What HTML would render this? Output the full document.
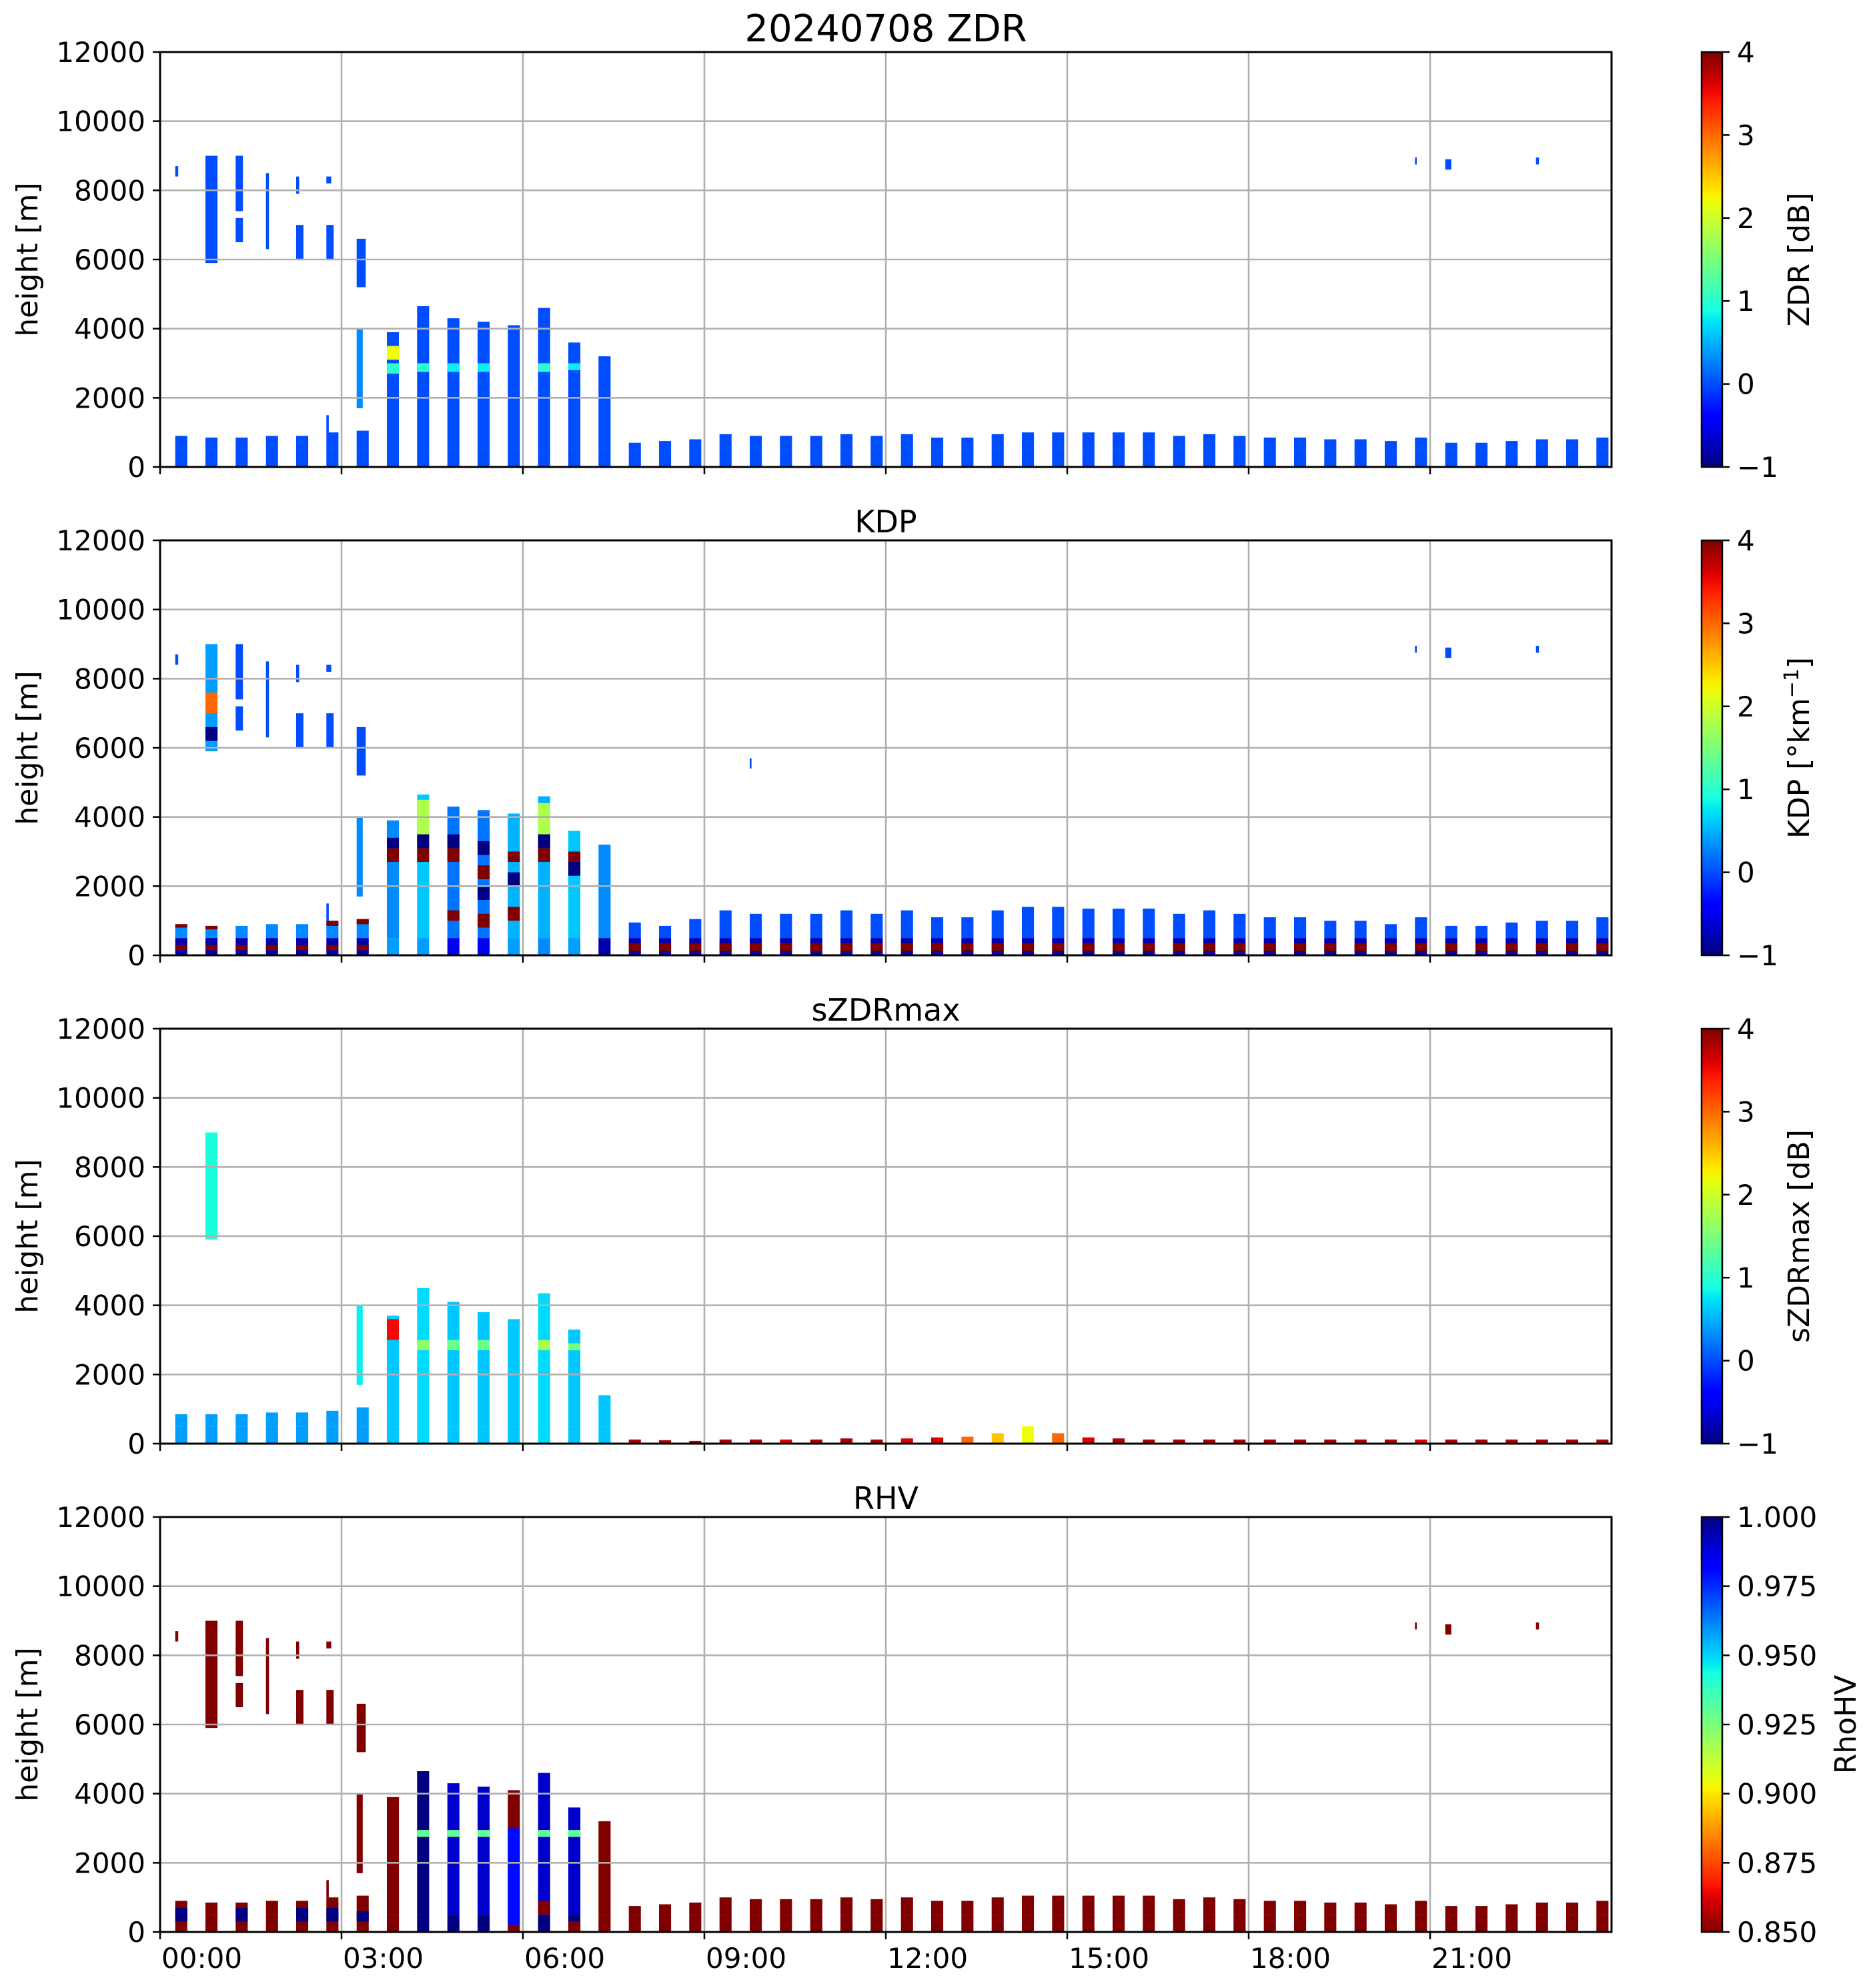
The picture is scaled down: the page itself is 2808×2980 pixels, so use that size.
<!DOCTYPE html>
<html><head><meta charset="utf-8"><style>
html,body{margin:0;padding:0;background:#fff;}
svg{display:block;font-family:"DejaVu Sans","Liberation Sans",sans-serif;}
</style></head><body>
<svg id="fig" xmlns="http://www.w3.org/2000/svg" width="2808" height="2980" viewBox="0 0 2808 2980">
<rect x="0" y="0" width="2808" height="2980" fill="#fff"/>
</svg>
<script>
// ---- data ----
const scanTimes = [0.25,0.75,1.25,1.75,2.25,2.75,3.25,3.75,4.25,4.75,5.25,5.75,6.25,6.75,7.25,7.75,8.25,8.75,9.25,9.75,10.25,10.75,11.25,11.75,12.25,12.75,13.25,13.75,14.25,14.75,15.25,15.75,16.25,16.75,17.25,17.75,18.25,18.75,19.25,19.75,20.25,20.75,21.25,21.75,22.25,22.75,23.25,23.75];
const scanDur = 0.2;
const xTickHours = [0,3,6,9,12,15,18,21];
const xTickLabels = ["00:00","03:00","06:00","09:00","12:00","15:00","18:00","21:00"];
const yTicks = [0,2000,4000,6000,8000,10000,12000];

// echo top heights (km) per scan
const zdrTop = [0.9,0.85,0.85,0.9,0.9,1.0,1.05,3.9,4.65,4.3,4.2,4.1,4.6,3.6,3.2,0.7,0.75,0.8,0.95,0.9,0.9,0.9,0.95,0.9,0.95,0.85,0.85,0.95,1.0,1.0,1.0,1.0,1.0,0.9,0.95,0.9,0.85,0.85,0.8,0.8,0.75,0.85,0.7,0.7,0.75,0.8,0.8,0.85];
const kdpTop = [0.9,0.85,0.85,0.9,0.9,1.0,1.05,3.9,4.65,4.3,4.2,4.1,4.6,3.6,3.2,0.95,0.85,1.05,1.3,1.2,1.2,1.2,1.3,1.2,1.3,1.1,1.1,1.3,1.4,1.4,1.35,1.35,1.35,1.2,1.3,1.2,1.1,1.1,1.0,1.0,0.9,1.1,0.85,0.85,0.95,1.0,1.0,1.1];
const szdrTop = [0.85,0.85,0.85,0.9,0.9,0.95,1.05,3.7,4.5,4.1,3.8,3.6,4.35,3.3,1.4,0.12,0.1,0.08,0.12,0.12,0.12,0.12,0.15,0.12,0.15,0.18,0.2,0.3,0.5,0.3,0.18,0.15,0.12,0.12,0.12,0.12,0.12,0.12,0.12,0.12,0.12,0.12,0.12,0.12,0.12,0.12,0.12,0.12];
const rhvTop = [0.9,0.85,0.85,0.9,0.9,1.0,1.05,3.9,4.65,4.3,4.2,4.1,4.6,3.6,3.2,0.75,0.8,0.85,1.0,0.95,0.95,0.95,1.0,0.95,1.0,0.9,0.9,1.0,1.05,1.05,1.05,1.05,1.05,0.95,1.0,0.95,0.9,0.9,0.85,0.85,0.8,0.9,0.75,0.75,0.8,0.85,0.85,0.9];

// values in the 0-0.5 km layer and above it
const zdrSurfVal = [0,0,0,0,0,0,0,0,0,0,0,0,0,0,0,0,0,0,0,0,0,0,0,0,0,0,0,0,0,0,0,0,0,0,0,0,0,0,0,0,0,0,0,0,0,0,0,0];
const zdrBodyVal = [0,0,0,0,0,0,0,0,0,0,0,0,0,0,0,0,0,0,0,0,0,0,0,0,0,0,0,0,0,0,0,0,0,0,0,0,0,0,0,0,0,0,0,0,0,0,0,0];
const kdpSurfVal = [-0.8,-0.8,-0.8,-0.8,-0.8,-0.8,-0.8,0.4,0.4,-0.5,-0.5,0.4,0.3,0.4,-0.8,-0.8,-0.8,-0.8,-0.8,-0.8,-0.8,-0.8,-0.8,-0.8,-0.8,-0.8,-0.8,-0.8,-0.8,-0.8,-0.8,-0.8,-0.8,-0.8,-0.8,-0.8,-0.8,-0.8,-0.8,-0.8,-0.8,-0.8,-0.8,-0.8,-0.8,-0.8,-0.8,-0.8];
const kdpBodyVal = [0.3,0.3,0.3,0.3,0.3,0.3,0.3,0.3,0.6,0.2,0.2,0.5,0.5,0.6,0.3,0,0,0,0,0,0,0,0,0,0,0,0,0,0,0,0,0,0,0,0,0,0,0,0,0,0,0,0,0,0,0,0,0];
const szdrSurfVal = [0.4,0.4,0.4,0.4,0.4,0.4,0.4,0.6,0.7,0.6,0.6,0.6,0.7,0.6,0.6,3.8,3.8,3.8,3.8,3.8,3.6,3.8,3.8,3.8,3.6,3.6,3.0,2.5,2.2,3.0,3.6,3.8,3.8,3.8,3.8,3.8,3.8,3.8,3.8,3.8,3.8,3.6,3.8,3.8,3.8,3.8,3.8,3.8];
const szdrBodyVal = [0.4,0.4,0.4,0.4,0.4,0.4,0.4,0.6,0.7,0.6,0.6,0.6,0.7,0.6,0.6,1.5,1.5,1.5,1.5,1.5,1.5,1.5,1.5,1.5,1.5,1.5,1.5,1.5,1.5,1.5,1.5,1.5,1.5,1.5,1.5,1.5,1.5,1.5,1.5,1.5,1.5,1.5,1.5,1.5,1.5,1.5,1.5,1.5];
const rhvSurfVal = [0.85,0.85,0.85,0.85,0.85,0.85,0.85,0.85,1.0,1.0,1.0,0.85,1.0,1.0,0.85,0.85,0.85,0.85,0.85,0.85,0.85,0.85,0.85,0.85,0.85,0.85,0.85,0.85,0.85,0.85,0.85,0.85,0.85,0.85,0.85,0.85,0.85,0.85,0.85,0.85,0.85,0.85,0.85,0.85,0.85,0.85,0.85,0.85];
const rhvBodyVal = [0.85,0.85,0.85,0.85,0.85,0.85,0.85,0.85,1.0,0.99,0.99,0.85,0.99,0.99,0.85,0.85,0.85,0.85,0.85,0.85,0.85,0.85,0.85,0.85,0.85,0.85,0.85,0.85,0.85,0.85,0.85,0.85,0.85,0.85,0.85,0.85,0.85,0.85,0.85,0.85,0.85,0.85,0.85,0.85,0.85,0.85,0.85,0.85];

// elevated echo segments: [scan index, bottom km, top km, duration h]
const upperSegs = [[0,8.4,8.7,0.05],[1,5.9,9.0,0.2],[2,7.4,9.0,0.12],[2,6.5,7.2,0.12],[3,6.3,8.5,0.05],[4,6.0,7.0,0.12],[4,7.9,8.4,0.05],[5,6.0,7.0,0.12],[5,8.2,8.4,0.08],[6,5.2,6.6,0.15],[6,1.7,4.0,0.1],[41,8.75,8.95,0.03],[42,8.6,8.9,0.1],[45,8.75,8.95,0.05],[5,1.0,1.5,0.04],[19,5.4,5.7,0.03]];
const zdrUpperVal = [0,0,0,0,0,0,0,0,0,0,0.3,0,0,0,0,null];
const kdpUpperVal = [0,0.4,0,0,0,0,0,0,0,0,0.3,0,0,0,0,0];
const szdrUpperVal = [null,0.9,null,null,null,null,null,null,null,null,0.8,null,null,null,null,null];
const rhvUpperVal = [0.85,0.85,0.85,0.85,0.85,0.85,0.85,0.85,0.85,0.85,0.85,0.85,0.85,0.85,0.85,null];

// embedded features: [scan index, bottom km, top km, value]
const zdrFeatures = [[7,2.7,3.0,1.0],[7,3.1,3.5,2.2],[8,2.75,3.0,1.0],[9,2.75,3.0,0.8],[10,2.75,3.0,0.8],[12,2.75,3.0,1.0],[13,2.8,3.0,0.8]];
const kdpFeatures = [[7,2.7,3.1,4],[7,3.1,3.4,-1],[8,2.7,3.1,4],[8,3.1,3.5,-1],[8,3.5,4.5,1.8],[9,2.7,3.1,4],[9,3.1,3.5,-1],[9,1.0,1.3,4],[10,0.8,1.2,4],[10,1.6,2.0,-1],[10,2.2,2.6,4],[10,2.9,3.3,-1],[11,1.0,1.4,4],[11,2.0,2.4,-1],[11,2.7,3.0,4],[12,2.7,3.1,4],[12,3.1,3.5,-1],[12,3.5,4.4,1.8],[13,2.7,3.0,4],[13,2.3,2.7,-1],[1,7.0,7.6,3],[1,6.2,6.6,-1],[0,0.15,0.3,4],[1,0.15,0.3,4],[2,0.15,0.3,4],[3,0.15,0.3,4],[4,0.15,0.3,4],[5,0.15,0.3,4],[6,0.15,0.3,4],[0,0.8,0.9,4],[1,0.75,0.85,4],[5,0.85,1.0,4],[6,0.9,1.05,4]];
const kdpRedBandScans = [15,16,17,18,19,20,21,22,23,24,25,26,27,28,29,30,31,32,33,34,35,36,37,38,39,40,41,42,43,44,45,46,47];
const kdpRedBandBottom = 0.12;
const kdpRedBandTopKm = 0.35;
const szdrFeatures = [[7,3.0,3.6,3.5],[8,2.7,3.0,1.6],[9,2.7,3.0,1.4],[10,2.7,3.0,1.4],[12,2.7,3.0,1.8],[13,2.7,2.9,1.5]];
const rhvFeatures = [[0,0.3,0.7,1.0],[2,0.3,0.7,1.0],[4,0.3,0.7,1.0],[5,0.3,0.7,1.0],[6,0.3,0.6,1.0],[8,2.75,2.95,0.93],[9,2.75,2.95,0.93],[10,2.75,2.95,0.93],[12,2.75,2.95,0.93],[13,2.75,2.95,0.93],[11,0.2,3.0,0.98],[12,0.5,0.9,0.85],[13,0,0.3,0.85]];

// ---- layout ----
const NS = "http://www.w3.org/2000/svg";
const svg = document.getElementById("fig");
const AX_L = 240, AX_R = 2416, AX_H = 622;
const panelTops = [78,810,1542,2274];
const CB_L = 2551, CB_W = 31;

function xs(h){ return AX_L + h/24*(AX_R-AX_L); }
function ysF(top){ return function(km){ return top + AX_H - km/12*AX_H; }; }

function interp(pts, v){
  for(let i=0;i<pts.length-1;i++){
    if(v>=pts[i][0] && v<=pts[i+1][0]){
      const f=(v-pts[i][0])/(pts[i+1][0]-pts[i][0]);
      return pts[i][1]+f*(pts[i+1][1]-pts[i][1]);
    }
  }
  return pts[pts.length-1][1];
}
function jet(t){
  t=Math.max(0,Math.min(1,t));
  const r=interp([[0,0],[0.35,0],[0.66,1],[0.89,1],[1,0.5]],t);
  const g=interp([[0,0],[0.125,0],[0.375,1],[0.64,1],[0.91,0],[1,0]],t);
  const b=interp([[0,0.5],[0.11,1],[0.34,1],[0.65,0],[1,0]],t);
  return "rgb("+Math.round(r*255)+","+Math.round(g*255)+","+Math.round(b*255)+")";
}
function mk(tag, attrs, parent){
  const e=document.createElementNS(NS,tag);
  for(const k in attrs) e.setAttribute(k,attrs[k]);
  (parent||svg).appendChild(e);
  return e;
}

function drawPanel(pi, cfg){
  const top = panelTops[pi];
  const ys = ysF(top);
  const col = v => cfg.rev ? jet(1-(v-cfg.vmin)/(cfg.vmax-cfg.vmin)) : jet((v-cfg.vmin)/(cfg.vmax-cfg.vmin));
  const g = mk("g",{});
  
  
  const dg = mk("g",{},g);
  
  
  function block(k, b, t, v, dur){
    const x0 = xs(scanTimes[k]), x1 = xs(scanTimes[k]+(dur||scanDur));
    const r = mk("rect",{x:x0.toFixed(1),y:ys(t).toFixed(1),width:(x1-x0).toFixed(1),height:(ys(b)-ys(t)).toFixed(1),fill:col(v)},dg);
    
    
  }
  scanTimes.forEach((t,k)=>{
    const tp = cfg.tops[k];
    if(tp<=0) return;
    const s = Math.min(0.5,tp);
    block(k,0,s,cfg.surf[k]);
    if(tp>0.5) block(k,0.5,tp,cfg.body[k]);
  });
  upperSegs.forEach((s,i)=>{
    const v = cfg.upper[i];
    if(v===null || v===undefined) return;
    block(s[0],s[1],s[2],v,s[3]);
  });
  cfg.features.forEach(f=>{ block(f[0],f[1],f[2],f[3]); });
  if(cfg.redScans){
    cfg.redScans.forEach(k=>{ block(k,kdpRedBandBottom,kdpRedBandTopKm,4); });
  }
  // grid
  const gg = mk("g",{stroke:"#b0b0b0","stroke-width":"2.6"},g);
  
  
  xTickHours.forEach(h=>{ if(h>0) mk("line",{x1:xs(h),x2:xs(h),y1:top,y2:top+AX_H},gg); });
  yTicks.forEach(v=>{ if(v>0 && v<12000) mk("line",{x1:AX_L,x2:AX_R,y1:ys(v/1000),y2:ys(v/1000)},gg); });
  // frame
  const fr = mk("rect",{x:AX_L,y:top,width:AX_R-AX_L,height:AX_H,fill:"none",stroke:"#000","stroke-width":"3"},g);
  
  
  // y ticks
  yTicks.forEach(v=>{
    const y=ys(v/1000);
    mk("line",{x1:AX_L-11,x2:AX_L,y1:y,y2:y,stroke:"#000","stroke-width":"2.5"},g);
    const t=mk("text",{x:AX_L-22,y:y+15,"text-anchor":"end","font-size":"42",fill:"#000"},g);
    t.textContent=String(v);
    
    
  });
  // x ticks
  xTickHours.forEach((h,i)=>{
    mk("line",{x1:xs(h),x2:xs(h),y1:top+AX_H,y2:top+AX_H+11,stroke:"#000","stroke-width":"2.5"},g);
    if(pi===3){
      const t=mk("text",{x:xs(h)+2,y:top+AX_H+54,"text-anchor":"start","font-size":"42",fill:"#000"},g);
      t.textContent=xTickLabels[i];
      
      
    }
  });
  // y label
  const yl=mk("text",{x:0,y:0,"text-anchor":"middle","font-size":"44",fill:"#000",transform:"translate(56,"+(top+AX_H/2)+") rotate(-90)"},g);
  yl.textContent="height [m]";
  
  
  // title
  const tt=mk("text",{x:(AX_L+AX_R)/2,y:top-(pi===0?16:12),"text-anchor":"middle","font-size":pi===0?"56":"46",fill:"#000"},g);
  tt.textContent=cfg.title;
  
  
  // colorbar
  const gid="grad"+pi;
  const defs=mk("defs",{},g);
  const lg=mk("linearGradient",{id:gid,x1:"0",y1:"1",x2:"0",y2:"0"},defs);
  for(let i=0;i<=40;i++){ const f=i/40; mk("stop",{offset:f,"stop-color":cfg.rev?jet(1-f):jet(f)},lg); }
  const cb=mk("rect",{x:CB_L,y:top,width:CB_W,height:AX_H,fill:"url(#"+gid+")",stroke:"#000","stroke-width":"2.5"},g);
  
  
  cfg.cbTicks.forEach((v,i)=>{
    const y=top+AX_H-(v-cfg.vmin)/(cfg.vmax-cfg.vmin)*AX_H;
    mk("line",{x1:CB_L+CB_W,x2:CB_L+CB_W+11,y1:y,y2:y,stroke:"#000","stroke-width":"2.5"},g);
    const t=mk("text",{x:CB_L+CB_W+22,y:y+15,"font-size":"42",fill:"#000"},g);
    t.textContent=cfg.cbLabels[i];
    
    
  });
  const cl=mk("text",{x:0,y:0,"text-anchor":"middle","font-size":"44",fill:"#000",transform:"translate("+cfg.cbLabelX+","+(top+AX_H/2)+") rotate(-90)"},g);
  cl.innerHTML=cfg.cbTitle;
  
  
}

const jetTicks=[-1,0,1,2,3,4];
const jetTickLabels=["\u22121","0","1","2","3","4"];
const rhvTicks=[0.85,0.875,0.9,0.925,0.95,0.975,1.0];
const rhvTickLabels=["0.850","0.875","0.900","0.925","0.950","0.975","1.000"];

drawPanel(0,{name:"zdr",title:"20240708 ZDR",tops:zdrTop,surf:zdrSurfVal,body:zdrBodyVal,upper:zdrUpperVal,features:zdrFeatures,vmin:-1,vmax:4,rev:false,cbTicks:jetTicks,cbLabels:jetTickLabels,cbTitle:"ZDR [dB]",cbLabelX:2712});
drawPanel(1,{name:"kdp",title:"KDP",tops:kdpTop,surf:kdpSurfVal,body:kdpBodyVal,upper:kdpUpperVal,features:kdpFeatures,redScans:kdpRedBandScans,vmin:-1,vmax:4,rev:false,cbTicks:jetTicks,cbLabels:jetTickLabels,cbTitle:"KDP [°km<tspan dy=\"-16\" font-size=\"30\">\u22121</tspan><tspan dy=\"16\">]</tspan>",cbLabelX:2712});
drawPanel(2,{name:"szdrmax",title:"sZDRmax",tops:szdrTop,surf:szdrSurfVal,body:szdrBodyVal,upper:szdrUpperVal,features:szdrFeatures,vmin:-1,vmax:4,rev:false,cbTicks:jetTicks,cbLabels:jetTickLabels,cbTitle:"sZDRmax [dB]",cbLabelX:2712});
drawPanel(3,{name:"rhv",title:"RHV",tops:rhvTop,surf:rhvSurfVal,body:rhvBodyVal,upper:rhvUpperVal,features:rhvFeatures,vmin:0.85,vmax:1.0,rev:true,cbTicks:rhvTicks,cbLabels:rhvTickLabels,cbTitle:"RhoHV",cbLabelX:2782});
</script>
</body></html>
